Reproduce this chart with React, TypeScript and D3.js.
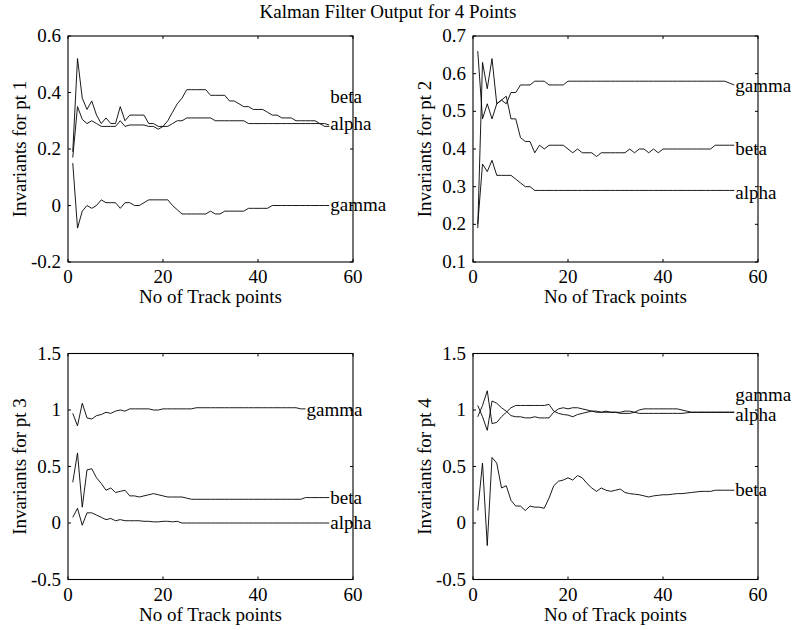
import React from "react";
import * as d3 from "d3";

// ---------- data ----------
const titleText = "Kalman Filter Output for 4 Points";
const xLabelText = "No of Track points";
const xTicks = [0, 20, 40, 60];

const yTicks1 = [-0.2, 0, 0.2, 0.4, 0.6];
const yTicks2 = [0.1, 0.2, 0.3, 0.4, 0.5, 0.6, 0.7];
const yTicks34 = [-0.5, 0, 0.5, 1, 1.5];

// Point 1
const beta1 = [0.19,0.52,0.38,0.34,0.37,0.32,0.29,0.31,0.29,0.29, 0.35,0.30,0.32,0.32,0.32,0.32,0.29,0.29,0.28,0.28, 0.30,0.33,0.36,0.38,0.41,0.41,0.41,0.41,0.41,0.39, 0.39,0.39,0.39,0.37,0.37,0.36,0.35,0.35,0.34,0.34, 0.34,0.33,0.32,0.32,0.31,0.31,0.31,0.30,0.30,0.30, 0.30,0.30,0.29,0.29,0.285];
const alpha1 = [0.17,0.35,0.305,0.29,0.30,0.29,0.28,0.28,0.28,0.28, 0.30,0.28,0.285,0.285,0.285,0.285,0.28,0.28,0.27,0.28, 0.28,0.29,0.30,0.30,0.31,0.31,0.31,0.31,0.31,0.31, 0.30,0.30,0.30,0.30,0.30,0.30,0.30,0.29,0.29,0.29, 0.29,0.29,0.29,0.29,0.29,0.29,0.29,0.29,0.29,0.29, 0.29,0.29,0.29,0.28,0.28];
const gamma1 = [0.15,-0.08,-0.02,0.0,-0.01,0.0,0.02,0.01,0.01,0.01, -0.01,0.01,0.01,0.0,0.0,0.01,0.02,0.02,0.02,0.02, 0.02,0.0,-0.015,-0.03,-0.03,-0.03,-0.03,-0.03,-0.03,-0.02, -0.03,-0.03,-0.02,-0.02,-0.02,-0.02,-0.02,-0.01,-0.01,-0.01, -0.01,-0.01,0.0,0.0,0.0,0.0,0.0,0.0,0.0,0.0, 0.0,0.0,0.0,0.0,0.0];

// Point 2
const gamma2 = [0.66,0.48,0.52,0.48,0.52,0.53,0.52,0.55,0.55,0.57, 0.57,0.57,0.58,0.58,0.58,0.57,0.57,0.57,0.57,0.58, 0.58,0.58,0.58,0.58,0.58,0.58,0.58,0.58,0.58,0.58, 0.58,0.58,0.58,0.58,0.58,0.58,0.58,0.58,0.58,0.58, 0.58,0.58,0.58,0.58,0.58,0.58,0.58,0.58,0.58,0.58, 0.58,0.58,0.58,0.575,0.57];
const beta2 = [0.19,0.63,0.56,0.64,0.52,0.53,0.54,0.48,0.48,0.43, 0.42,0.42,0.39,0.41,0.40,0.41,0.41,0.41,0.41,0.40, 0.39,0.40,0.39,0.39,0.39,0.38,0.39,0.39,0.39,0.39, 0.39,0.39,0.40,0.39,0.40,0.40,0.39,0.40,0.39,0.40, 0.40,0.40,0.40,0.40,0.40,0.40,0.40,0.40,0.40,0.40, 0.41,0.41,0.41,0.41,0.41];
const alpha2 = [0.20,0.36,0.34,0.37,0.33,0.33,0.33,0.33,0.32,0.31, 0.30,0.30,0.29,0.29,0.29,0.29,0.29,0.29,0.29,0.29, 0.29,0.29,0.29,0.29,0.29,0.29,0.29,0.29,0.29,0.29, 0.29,0.29,0.29,0.29,0.29,0.29,0.29,0.29,0.29,0.29, 0.29,0.29,0.29,0.29,0.29,0.29,0.29,0.29,0.29,0.29, 0.29,0.29,0.29,0.29,0.29];

// Point 3
const gamma3 = [0.97,0.86,1.06,0.93,0.92,0.95,0.96,0.98,0.97,0.99, 1.00,0.99,1.01,1.01,1.01,1.01,1.01,1.00,1.00,1.01, 1.01,1.01,1.01,1.01,1.01,1.01,1.02,1.02,1.02,1.02, 1.02,1.02,1.02,1.02,1.02,1.02,1.02,1.02,1.02,1.02, 1.02,1.02,1.02,1.02,1.02,1.02,1.02,1.02,1.01,1.01];
const beta3 = [0.36,0.62,0.14,0.47,0.48,0.40,0.35,0.29,0.31,0.27, 0.28,0.29,0.24,0.24,0.23,0.24,0.25,0.26,0.25,0.24, 0.23,0.23,0.23,0.23,0.22,0.21,0.21,0.21,0.21,0.21, 0.21,0.21,0.21,0.21,0.21,0.21,0.21,0.21,0.21,0.21, 0.21,0.21,0.21,0.21,0.21,0.21,0.21,0.21,0.21,0.225, 0.225,0.225,0.225,0.225,0.225];
const alpha3 = [0.05,0.13,-0.02,0.09,0.09,0.07,0.05,0.03,0.04,0.02, 0.03,0.02,0.02,0.02,0.02,0.015,0.015,0.01,0.01,0.015, 0.015,0.01,0.015,0.0,0.0,0.0,0.0,0.0,0.0,0.0, 0.0,0.0,0.0,0.0,0.0,0.0,0.0,0.0,0.0,0.0, 0.0,0.0,0.0,0.0,0.0,0.0,0.0,0.0,0.0,0.0, 0.0,0.0,0.0,0.0,0.0];

// Point 4
const gamma4 = [1.04,0.94,0.82,1.08,1.06,1.02,0.99,0.95,0.94,0.94, 0.93,0.93,0.94,0.93,0.93,0.93,0.98,1.01,1.02,1.01, 1.02,1.02,1.01,1.00,0.99,0.99,0.98,0.98,0.98,0.98, 0.98,0.99,0.99,0.98,1.00,1.01,1.01,1.01,1.01,1.01, 1.01,1.01,1.01,1.00,0.99,0.98,0.98,0.98,0.98,0.98, 0.98,0.98,0.98,0.98,0.98];
const alpha4 = [0.94,1.04,1.17,0.88,0.89,0.94,0.98,1.02,1.04,1.04, 1.04,1.04,1.04,1.04,1.04,1.05,0.99,0.97,0.96,0.955, 0.94,0.96,0.97,0.98,0.99,0.98,0.98,0.99,0.98,0.98, 0.97,0.97,0.97,0.98,0.97,0.97,0.97,0.97,0.97,0.97, 0.97,0.97,0.97,0.97,0.975,0.98,0.98,0.98,0.98,0.98, 0.98,0.98,0.98,0.98,0.98];
const beta4 = [0.11,0.53,-0.2,0.58,0.53,0.31,0.33,0.20,0.15,0.15, 0.11,0.15,0.14,0.14,0.13,0.22,0.33,0.37,0.38,0.40, 0.38,0.42,0.40,0.35,0.31,0.28,0.31,0.29,0.28,0.29, 0.30,0.27,0.26,0.255,0.25,0.24,0.23,0.24,0.245,0.25, 0.25,0.255,0.26,0.26,0.265,0.27,0.275,0.28,0.28,0.28, 0.29,0.29,0.29,0.29,0.29];

// label positions [x, y]
const labelNames = ["beta", "alpha", "gamma"];
const labels1 = [[55, 0.384], [55, 0.285], [55, 0.0]];
const labels2 = [[55, 0.40], [55, 0.283], [55, 0.565]];
const labels3 = [[55, 0.214], [55, 0.0], [50, 1.0]];
const labels4 = [[55, 0.287], [55, 0.95], [55, 1.125]];

const panels = [
  { name: "Invariants for pt 1", series: [beta1, alpha1, gamma1], labels: labels1, yDomain: [-0.2, 0.6], yTicks: yTicks1, left: 68, top: 36 },
  { name: "Invariants for pt 2", series: [beta2, alpha2, gamma2], labels: labels2, yDomain: [0.1, 0.7], yTicks: yTicks2, left: 473, top: 36 },
  { name: "Invariants for pt 3", series: [beta3, alpha3, gamma3], labels: labels3, yDomain: [-0.5, 1.5], yTicks: yTicks34, left: 68, top: 353.5 },
  { name: "Invariants for pt 4", series: [beta4, alpha4, gamma4], labels: labels4, yDomain: [-0.5, 1.5], yTicks: yTicks34, left: 473, top: 353.5 },
];

const W = 285;
const H = 226;
const FONT = "'Liberation Serif', 'Times New Roman', serif";
const FS = 19;
const TL = 3;

function Panel({ p }: { p: any }) {
  const x = d3.scaleLinear().domain([0, 60]).range([0, W]);
  const y = d3.scaleLinear().domain(p.yDomain).range([H, 0]);
  const line = d3.line<number>().x((_, i) => x(i + 1)).y((d) => y(d));
  return (
    <g transform={`translate(${p.left},${p.top})`}>
      {p.series.map((s: number[], i: number) => (
        <path key={i} d={line(s) || ""} fill="none" stroke="#000" strokeWidth={0.9} />
      ))}
      <rect x={0} y={0} width={W} height={H} fill="none" stroke="#000" strokeWidth={1.1} />
      {xTicks.map((t) => (
        <g key={"xt" + t}>
          <line x1={x(t)} x2={x(t)} y1={H} y2={H - TL} stroke="#000" />
          <line x1={x(t)} x2={x(t)} y1={0} y2={TL} stroke="#000" />
          <text x={x(t)} y={H + 21} textAnchor="middle" fontSize={FS} fontFamily={FONT}>{String(t)}</text>
        </g>
      ))}
      {p.yTicks.map((t: number) => (
        <g key={"yt" + t}>
          <line x1={0} x2={TL} y1={y(t)} y2={y(t)} stroke="#000" />
          <line x1={W} x2={W - TL} y1={y(t)} y2={y(t)} stroke="#000" />
          <text x={-7} y={y(t) + 6} textAnchor="end" fontSize={FS} fontFamily={FONT}>{String(t)}</text>
        </g>
      ))}
      {p.labels.map((l: number[], i: number) => (
        <text key={"lb" + i} x={x(l[0]) + 1} y={y(l[1]) + 5.5} fontSize={FS} fontFamily={FONT}>{labelNames[i]}</text>
      ))}
      <text x={W / 2} y={H + 41} textAnchor="middle" fontSize={FS} fontFamily={FONT}>{xLabelText}</text>
      <text transform={`translate(${-42},${H / 2}) rotate(-90)`} textAnchor="middle" fontSize={FS} fontFamily={FONT}>{p.name}</text>
    </g>
  );
}

export default function App() {
  return (
    <svg width={794} height={630} style={{ position: "absolute", left: 0, top: 0, background: "#fff" }}>
      <rect x={0} y={0} width={794} height={630} fill="#fff" />
      <text x={388} y={18} textAnchor="middle" fontSize={FS} fontFamily={FONT}>{titleText}</text>
      {panels.map((p, i) => (
        <Panel key={i} p={p} />
      ))}
    </svg>
  );
}
